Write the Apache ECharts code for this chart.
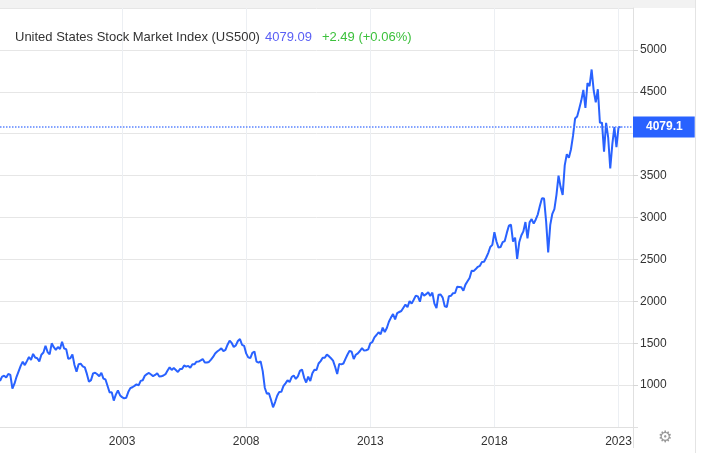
<!doctype html>
<html lang="en">
<head>
<meta charset="UTF-8">
<script src="https://cdn.jsdelivr.net/npm/echarts@6/dist/echarts.min.js"></script>
<style>
  html, body { margin: 0; padding: 0; background: #fff; }
  #main { width: 701px; height: 453px; }
</style>
</head>
<body>
<div id="main"></div>
<script type="text/javascript">
// monthly closes, Feb 1998 .. Feb 2023
var closes1998to2002 = [
  1049.34, 1101.75, 1111.75, 1090.82, 1133.84, 1120.67, 957.28, 1017.01, 1098.67, 1163.63, 1229.23,
  1279.64, 1238.33, 1286.37, 1335.18, 1301.84, 1372.71, 1328.72, 1320.41, 1282.71, 1362.93, 1388.91, 1469.25,
  1394.46, 1366.42, 1498.58, 1452.43, 1420.60, 1454.60, 1430.83, 1517.68, 1436.51, 1429.40, 1314.95, 1320.28,
  1366.01, 1239.94, 1160.33, 1249.46, 1255.82, 1224.42, 1211.23, 1133.58, 1040.94, 1059.78, 1139.45, 1148.08,
  1130.20, 1106.73, 1147.39, 1076.92, 1067.14, 989.82, 911.62, 916.07, 815.28, 885.76, 936.31, 879.82
];
var closes2003to2007 = [
  855.70, 841.15, 848.18, 916.92, 963.59, 974.50, 990.31, 1008.01, 995.97, 1050.71, 1058.20, 1111.92,
  1131.13, 1144.94, 1126.21, 1107.30, 1120.68, 1140.84, 1101.72, 1104.24, 1114.58, 1130.20, 1173.82, 1211.92,
  1181.27, 1203.60, 1180.59, 1156.85, 1191.50, 1191.33, 1234.18, 1220.33, 1228.81, 1207.01, 1249.48, 1248.29,
  1280.08, 1280.66, 1294.83, 1310.61, 1270.09, 1270.20, 1276.66, 1303.82, 1335.85, 1377.94, 1400.63, 1418.30,
  1438.24, 1406.82, 1420.86, 1482.37, 1530.62, 1503.35, 1455.27, 1473.99, 1526.75, 1549.38, 1481.14, 1468.36
];
var closes2008to2012 = [
  1378.55, 1330.63, 1322.70, 1385.59, 1400.38, 1280.00, 1267.38, 1282.83, 1166.36, 968.75, 896.24, 903.25,
  825.88, 735.09, 797.87, 872.81, 919.14, 919.32, 987.48, 1020.62, 1057.08, 1036.19, 1095.63, 1115.10,
  1073.87, 1104.49, 1169.43, 1186.69, 1089.41, 1030.71, 1101.60, 1049.33, 1141.20, 1183.26, 1180.55, 1257.64,
  1286.12, 1327.22, 1325.83, 1363.61, 1345.20, 1320.64, 1292.28, 1218.89, 1131.42, 1253.30, 1246.96, 1257.60,
  1312.41, 1365.68, 1408.47, 1397.91, 1310.33, 1362.16, 1379.32, 1406.58, 1440.67, 1412.16, 1416.18, 1426.19
];
var closes2013to2017 = [
  1498.11, 1514.68, 1569.19, 1597.57, 1630.74, 1606.28, 1685.73, 1632.97, 1681.55, 1756.54, 1805.81, 1848.36,
  1782.59, 1859.45, 1872.34, 1883.95, 1923.57, 1960.23, 1930.67, 2003.37, 1972.29, 2018.05, 2067.56, 2058.90,
  1994.99, 2104.50, 2067.89, 2085.51, 2107.39, 2063.11, 2103.84, 1972.18, 1920.03, 2079.36, 2080.41, 2043.94,
  1940.24, 1932.23, 2059.74, 2065.30, 2096.95, 2098.86, 2173.60, 2170.95, 2168.27, 2126.15, 2198.81, 2238.83,
  2278.87, 2363.64, 2362.72, 2384.20, 2411.80, 2423.41, 2470.30, 2471.65, 2519.36, 2575.26, 2647.58, 2673.61
];
var closes2018to2023 = [
  2823.81, 2713.83, 2640.87, 2648.05, 2705.27, 2718.37, 2816.29, 2901.52, 2913.98, 2711.74, 2760.17, 2506.85,
  2704.10, 2784.49, 2834.40, 2945.83, 2752.06, 2941.76, 2980.38, 2926.46, 2976.74, 3037.56, 3140.98, 3230.78,
  3225.52, 2954.22, 2584.59, 2912.43, 3044.31, 3100.29, 3271.12, 3500.31, 3363.00, 3269.96, 3621.63, 3756.07,
  3714.24, 3811.15, 3972.89, 4181.17, 4204.11, 4297.50, 4395.26, 4522.68, 4307.54, 4605.38, 4567.00, 4766.18,
  4515.55, 4373.94, 4530.41, 4131.93, 4132.15, 3785.38, 4130.29, 3955.00, 3585.62, 3871.98, 4080.11, 3839.50,
  4076.60, 4079.09
];
var tickYears = ['2003', '2008', '2013', '2018', '2023'];
var titleName = 'United States Stock Market Index (US500)';
var lastPrice = '4079.09';
var priceChange = '+2.49 (+0.06%)';

// month categories from Feb 1998 to Aug 2023 (axis runs past the last close)
var months = [];
for (var y = 1998; y <= 2023; y++) {
  for (var m = 1; m <= 12; m++) {
    if (y === 1998 && m < 2) continue;
    if (y === 2023 && m > 8) break;
    months.push(y + '-' + (m < 10 ? '0' + m : m));
  }
}
var closes = closes1998to2002.concat(closes2003to2007, closes2008to2012, closes2013to2017, closes2018to2023);
var lastValue = closes[closes.length - 1];

function isTickMonth(index, value) {
  return value.slice(5) === '01' && tickYears.indexOf(value.slice(0, 4)) > -1;
}

var myChart = echarts.init(document.getElementById('main'));
var font = 'Arial, "Liberation Sans", sans-serif';
var blue = '#2962ff';

option = {
  animation: false,
  backgroundColor: '#fff',
  title: {
    left: 10,
    top: 23,
    text: '{a|' + titleName + '} {b|' + lastPrice + '}  {c|' + priceChange + '}',
    textStyle: {
      fontFamily: font,
      fontWeight: 'normal',
      rich: {
        a: { fontSize: 13, color: '#333', fontFamily: font, fontWeight: 'normal' },
        b: { fontSize: 13, color: '#5a5ff5', fontFamily: font, fontWeight: 'normal' },
        c: { fontSize: 13, color: '#3cc13c', fontFamily: font, fontWeight: 'normal' }
      }
    }
  },
  grid: { left: 0, right: 68, top: 8, bottom: 26, containLabel: false },
  xAxis: {
    type: 'category',
    data: months,
    boundaryGap: false,
    axisLine: { lineStyle: { color: '#e0e0e0' } },
    axisTick: { show: false },
    axisLabel: {
      interval: isTickMonth,
      formatter: function (v) { return v.slice(0, 4); },
      color: '#333',
      fontSize: 12,
      fontFamily: font,
      margin: 9
    },
    splitLine: {
      show: true,
      interval: isTickMonth,
      lineStyle: { color: '#eceff3', width: 1 }
    }
  },
  yAxis: {
    type: 'value',
    position: 'right',
    min: 500,
    max: 5500,
    interval: 500,
    axisLine: { show: true, lineStyle: { color: '#e0e0e0' } },
    axisTick: { show: true, length: 5, lineStyle: { color: '#d6d6d6' } },
    axisLabel: {
      showMinLabel: false,
      showMaxLabel: false,
      color: '#333',
      fontSize: 12,
      fontFamily: font,
      margin: 7,
      formatter: function (v) { return v === 4000 ? '' : String(v); }
    },
    splitLine: { lineStyle: { color: '#e6e6e6', width: 1 } }
  },
  series: [{
    type: 'line',
    data: closes,
    symbol: 'none',
    color: blue,
    lineStyle: { color: blue, width: 2 },
    z: 3,
    markLine: {
      symbol: ['none', 'none'],
      silent: true,
      precision: 2,
      data: [{
        yAxis: lastValue,
        lineStyle: { color: '#5b85ff', type: 'dotted', width: 1.5 }
      }],
      label: {
        position: 'end',
        distance: 0,
        formatter: function (p) { return Number(p.value).toFixed(1); },
        color: '#fff',
        backgroundColor: blue,
        fontSize: 12,
        fontWeight: 'bold',
        fontFamily: font,
        padding: [5, 12, 4, 13]
      }
    }
  }],
  graphic: [
    { type: 'rect', shape: { x: 0, y: 0, width: 695, height: 8 }, style: { fill: '#f2f2f2' }, silent: true },
    { type: 'line', shape: { x1: 695.5, y1: 0, x2: 695.5, y2: 453 }, style: { stroke: '#e4e4e4', lineWidth: 1 }, silent: true },
    { type: 'line', shape: { x1: 633.5, y1: 427, x2: 633.5, y2: 448 }, style: { stroke: '#e0e0e0', lineWidth: 1 }, silent: true },
    { type: 'line', shape: { x1: 633, y1: 427.5, x2: 638, y2: 427.5 }, style: { stroke: '#e0e0e0', lineWidth: 1 }, silent: true },
    { type: 'text', x: 658, y: 430, style: { text: '\u2699', fontSize: 16, fill: '#999', fontFamily: '"DejaVu Sans"' }, silent: true }
  ]
};
myChart.setOption(option);
</script>
</body>
</html>
